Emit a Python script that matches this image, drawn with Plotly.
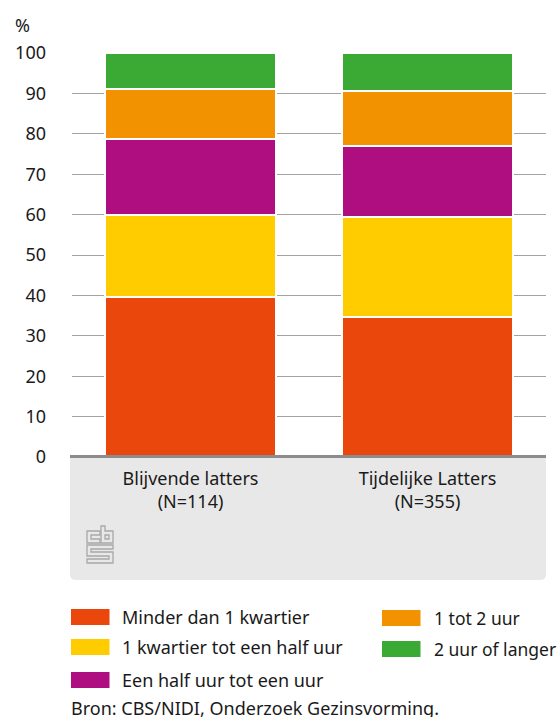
import plotly.graph_objects as go

categories = ["Blijvende latters<br>(N=114)", "Tijdelijke Latters<br>(N=355)"]
series_names = ["Minder dan 1 kwartier", "1 kwartier tot een half uur", "Een half uur tot een uur", "1 tot 2 uur", "2 uur of langer"]
series_values = [[39.5, 34.7], [20.5, 24.7], [18.7, 17.6], [12.3, 13.6], [9.0, 9.4]]
series_colors = ["#E9470B", "#FFCC00", "#AF0E80", "#F39200", "#3AAA35"]
y_ticks = list(range(0, 101, 10))
source_text = "Bron: CBS/NIDI, Onderzoek Gezinsvorming."

W, H = 559, 717
FONT = "Noto Sans"
TEXT = "#1a1a1a"
L, R, T, B = 72, 13, 53, 260


def px(x):
    return (x - L) / (W - L - R)


def py(y):
    return 1 - (y - T) / (H - T - B)


fig = go.Figure()
for name, vals, col in zip(series_names, series_values, series_colors):
    fig.add_trace(go.Bar(x=categories, y=vals, name=name, marker_color=col,
                         marker_line_color="white", marker_line_width=2, width=0.72,
                         showlegend=False, hoverinfo="name+y"))

shapes = []
annotations = []

# grey panel below the axis
p = (f"M {px(70)} {py(457)} L {px(546)} {py(457)} L {px(546)} {py(574)} "
     f"Q {px(546)} {py(580)} {px(540)} {py(580)} "
     f"L {px(76)} {py(580)} Q {px(70)} {py(580)} {px(70)} {py(574)} Z")
shapes.append(dict(type="path", xref="paper", yref="paper", path=p,
                   fillcolor="#E8E8E8", line_width=0, layer="below"))
shapes.append(dict(type="line", xref="paper", yref="paper", x0=px(70), x1=px(546), y0=py(456.5), y1=py(456.5),
                   line=dict(color="#8c8c8c", width=3)))

# cbs logo outlines
logo_polys = [
    [(87, 531), (100, 531), (100, 535), (91, 535), (91, 539), (100, 539), (100, 543), (87, 543)],
    [(101, 526), (105, 526), (105, 531), (113, 531), (113, 543), (101, 543)],
    [(105, 535), (109, 535), (109, 539), (105, 539)],
    [(87, 545), (113, 545), (113, 549), (91, 549), (91, 552), (113, 552), (113, 563), (87, 563),
     (87, 559), (109, 559), (109, 556), (87, 556)],
]
for pts in logo_polys:
    d = "M " + " L ".join(f"{px(x)} {py(y)}" for x, y in pts) + " Z"
    shapes.append(dict(type="path", xref="paper", yref="paper", path=d, line=dict(color="#a8a8a8", width=1.3)))

# legend
legend_pos = [(71, 617, 122, 0, 18), (71, 647, 122, 1, 18), (71, 680, 122, 2, 18),
              (382, 618, 434, 3, 17.5), (382, 649, 434, 4, 17.5)]
for sx, sy, tx, i, fs in legend_pos:
    shapes.append(dict(type="rect", xref="paper", yref="paper", x0=px(sx), x1=px(sx + 38.5),
                       y0=py(sy - 8), y1=py(sy + 8), fillcolor=series_colors[i], line_width=0))
    annotations.append(dict(xref="paper", yref="paper", x=px(tx), y=py(sy), xanchor="left", yanchor="middle",
                            xshift=-2, text=series_names[i], showarrow=False, font=dict(size=fs, color=TEXT, family=FONT)))

annotations.append(dict(xref="paper", yref="paper", x=px(71), y=py(708), xanchor="left", yanchor="middle", xshift=-2,
                        text=source_text, showarrow=False, font=dict(size=18, color=TEXT, family=FONT)))
annotations.append(dict(xref="paper", yref="paper", x=px(15), y=py(25), xanchor="left", yanchor="middle", xshift=-2,
                        text="%", showarrow=False, font=dict(size=18, color=TEXT, family=FONT)))

fig.update_layout(
    width=W, height=H, autosize=False, barmode="stack",
    margin=dict(l=L, r=R, t=T, b=B), paper_bgcolor="white", plot_bgcolor="white",
    font=dict(family=FONT, size=18, color=TEXT),
    shapes=shapes, annotations=annotations,
    xaxis=dict(showgrid=False, ticks="outside", ticklen=5, tickcolor="rgba(0,0,0,0)", showline=False, zeroline=False,
               tickfont=dict(size=18, color=TEXT, family=FONT), automargin=False),
    yaxis=dict(range=[0, 100], tickvals=y_ticks, showgrid=True, gridcolor="#a3a3a3", gridwidth=1,
               zeroline=False, showline=False, ticks="", ticklabelstandoff=25,
               tickfont=dict(size=18, color=TEXT, family=FONT), automargin=False),
)
fig.write_html("out.html", config={"displayModeBar": False},
               post_script="document.body.style.margin='0';document.body.style.overflow='hidden';")
